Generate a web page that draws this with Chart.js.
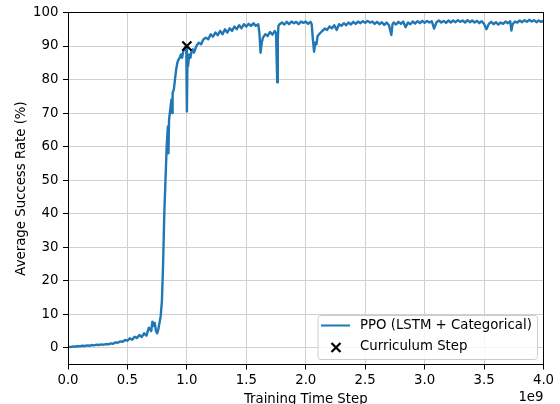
<!DOCTYPE html>
<html>
<head>
<meta charset="utf-8">
<script src="https://cdn.jsdelivr.net/npm/chart.js@4.4.1/dist/chart.umd.min.js"></script>
<style>
  html, body { margin: 0; padding: 0; background: #fff; overflow: hidden; }
  #wrap { position: relative; width: 560px; height: 420px; }
</style>
</head>
<body>
<div id="wrap"><canvas id="c"></canvas></div>
<script>
// Training time step (units of 1e9)
const steps = [
  0.00,0.02,0.04,0.06,0.08,0.10,0.12,0.14,0.16,0.18,
  0.20,0.22,0.24,0.26,0.28,0.30,0.32,0.34,0.36,0.38,
  0.40,0.42,0.44,0.46,0.48,0.50,0.52,0.54,0.56,0.58,
  0.60,0.62,0.64,0.66,0.68,0.70,0.71,0.72,0.73,0.74,
  0.75,0.76,0.77,0.78,0.79,0.80,0.81,0.82,0.83,0.84,
  0.845,0.85,0.86,0.87,0.875,0.88,0.89,0.90,0.91,0.92,
  0.93,0.94,0.95,0.96,0.97,0.98,0.99,0.995,1.00,1.005,
  1.01,1.02,1.03,1.04,1.05,1.06,1.08,1.10,1.12,1.14,
  1.16,1.18,1.20,1.22,1.24,1.26,1.28,1.30,1.32,1.34,
  1.36,1.38,1.40,1.42,1.44,1.46,1.48,1.50,1.52,1.54,
  1.56,1.58,1.60,1.61,1.62,1.63,1.64,1.66,1.68,1.70,
  1.72,1.74,1.75,1.76,1.765,1.77,1.78,1.80,1.82,1.84,
  1.86,1.88,1.90,1.92,1.94,1.96,1.98,2.00,2.02,2.04,
  2.05,2.06,2.07,2.08,2.09,2.10,2.12,2.14,2.16,2.18,
  2.20,2.22,2.24,2.26,2.28,2.30,2.32,2.34,2.36,2.38,
  2.40,2.42,2.44,2.46,2.48,2.50,2.52,2.54,2.56,2.58,
  2.60,2.62,2.64,2.66,2.68,2.70,2.72,2.73,2.74,2.76,
  2.78,2.80,2.82,2.84,2.86,2.88,2.90,2.92,2.94,2.96,
  2.98,3.00,3.02,3.04,3.06,3.08,3.10,3.12,3.14,3.16,
  3.18,3.20,3.22,3.24,3.26,3.28,3.30,3.32,3.34,3.36,
  3.38,3.40,3.42,3.44,3.46,3.48,3.50,3.52,3.54,3.56,
  3.58,3.60,3.62,3.64,3.66,3.68,3.70,3.72,3.73,3.74,
  3.76,3.78,3.80,3.82,3.84,3.86,3.88,3.90,3.92,3.94,
  3.96,3.98,4.00
];
// Average success rate (%)
const successRate = [
  0.3,0.2,0.4,0.3,0.5,0.4,0.6,0.5,0.7,0.6,
  0.8,0.7,0.9,0.8,1.0,0.9,1.1,1.0,1.3,1.2,
  1.6,1.5,1.9,1.8,2.3,2.1,2.8,2.4,3.3,2.9,
  3.8,3.2,4.3,3.6,6.0,5.0,7.8,6.5,7.4,5.0,
  4.3,5.5,7.5,9.5,14,25,40,50,60,66,
  58,68,71,74,70,76,77,80,83,85,
  86,86.5,87.5,86.5,88.5,89,90,89.5,70.5,86,
  84,87.5,86.5,88.5,89,88,90,91,90.5,92,
  92.5,92,93.5,92.8,94,93.2,94.5,93.5,95,94,
  95.3,94.5,95.8,95,96.2,95.3,96.5,95.8,96.6,96,
  96.8,96,96.5,94,88,91,92.5,93.5,93,94.2,
  93.4,94.5,93.8,79.2,92,96,96.5,97,96.4,97.2,
  96.5,97.3,96.8,97.2,96.5,97.3,96.9,97.3,96.6,97.2,
  96.5,92,88.3,91,90.5,93,93.8,94.5,95.2,94.8,
  95.8,95.3,96.2,94.8,96.5,96,96.8,96.2,97,96.4,
  97.2,96.6,97.3,96.8,97.4,96.9,97.5,97,97.3,96.6,
  97.2,96.5,97.1,96.3,97,96.2,93.3,96.5,97,96.4,
  97.2,96.6,97.3,95.6,97,96.5,97.3,96.7,97.4,96.8,
  97.5,96.9,97.5,97,97.4,95.2,97.1,97.6,97,97.5,
  96.9,97.6,97,97.6,97.1,97.7,97.2,97.6,97,97.7,
  97.1,97.6,97,97.5,96.8,97.4,96.6,95,96.6,97.2,
  96.5,97.1,96.4,97,96.6,97.3,96.8,97.4,94.6,96.5,
  97.3,97,97.6,97.1,97.7,97.2,97.8,97.3,97.7,97.1,
  97.6,97.2,97.5
];
// Curriculum step marker
const curriculumSteps = [1.0];
const curriculumRates = [90];

const xTicks = [0, 0.5, 1.0, 1.5, 2.0, 2.5, 3.0, 3.5, 4.0];

const FONT = "'DejaVu Sans', sans-serif";
const FS = 13.3;

const frame = {
  id: 'frame',
  afterDraw(chart) {
    const { ctx, chartArea: a } = chart;
    ctx.save();
    // spines
    ctx.strokeStyle = '#000';
    ctx.lineWidth = 1;
    const l = Math.round(a.left) + 0.5, t = Math.round(a.top) + 0.5;
    const r = Math.round(a.right) - 0.5, b = Math.round(a.bottom) - 0.5;
    ctx.strokeRect(l, t, r - l, b - t);
    // offset text
    ctx.fillStyle = '#000';
    ctx.font = FS + 'px ' + FONT;
    ctx.textAlign = 'right';
    ctx.textBaseline = 'middle';
    ctx.fillText('1e9', a.right, 398);
    // legend
    const bx = a.right - 226, by = a.bottom - 49.5, bw = 219.5, bh = 44;
    ctx.beginPath();
    ctx.roundRect(bx + 0.5, by + 0.5, bw, bh, 3);
    ctx.fillStyle = 'rgba(255,255,255,0.8)';
    ctx.fill();
    ctx.strokeStyle = '#cccccc';
    ctx.lineWidth = 1;
    ctx.stroke();
    const ds = chart.data.datasets;
    // line sample
    ctx.beginPath();
    ctx.moveTo(bx + 3.5, by + 10.5);
    ctx.lineTo(bx + 32.5, by + 10.5);
    ctx.strokeStyle = '#1f77b4';
    ctx.lineWidth = 2;
    ctx.stroke();
    // x marker sample
    const mx = bx + 18.5, my = by + 32.5, h = 4.5;
    ctx.beginPath();
    ctx.moveTo(mx - h, my - h); ctx.lineTo(mx + h, my + h);
    ctx.moveTo(mx - h, my + h); ctx.lineTo(mx + h, my - h);
    ctx.strokeStyle = '#000';
    ctx.lineWidth = 2.2;
    ctx.stroke();
    ctx.fillStyle = '#000';
    ctx.textAlign = 'left';
    ctx.textBaseline = 'middle';
    ctx.fillText(ds[1].label, bx + 42.5, by + 10.5);
    ctx.fillText(ds[0].label, bx + 42.5, by + 31.5);
    ctx.restore();
  }
};

new Chart(document.getElementById('c'), {
  type: 'line',
  data: {
    datasets: [
      {
        type: 'scatter',
        label: 'Curriculum Step',
        data: curriculumSteps.map((x, i) => ({ x, y: curriculumRates[i] })),
        pointStyle: 'crossRot',
        pointRadius: 6.4,
        pointBorderWidth: 2.2,
        borderColor: '#000',
        backgroundColor: '#000',
        order: 1
      },
      {
        label: 'PPO (LSTM + Categorical)',
        data: steps.map((x, i) => ({ x, y: successRate[i] })),
        borderColor: '#1f77b4',
        borderWidth: 2.4,
        pointRadius: 0,
        tension: 0,
        fill: false,
        borderJoinStyle: 'round',
        order: 2
      }
    ]
  },
  options: {
    responsive: true,
    maintainAspectRatio: false,
    animation: false,
    devicePixelRatio: 1,
    layout: { padding: { left: 0, right: 16.5, top: 11, bottom: 0 } },
    plugins: { legend: { display: false }, tooltip: { enabled: false } },
    scales: {
      x: {
        type: 'linear',
        min: 0, max: 4,
        afterBuildTicks(s) { s.ticks = xTicks.map(v => ({ value: v })); },
        afterFit(s) { s.height = 55.5; },
        ticks: {
          callback: v => Number(v).toFixed(1),
          color: '#000', font: { family: FONT, size: FS }, padding: 3,
          maxRotation: 0, autoSkip: false
        },
        grid: { color: '#d0d0d0', lineWidth: 1, tickLength: 5, tickColor: '#000' },
        border: { display: true, color: '#000', width: 1 },
        title: {
          display: true, text: 'Training Time Step', color: '#000',
          font: { family: FONT, size: FS }, padding: { top: 0, bottom: 12 }
        }
      },
      y: {
        min: -5, max: 100,
        afterFit(s) { s.width = 68; },
        ticks: {
          stepSize: 10, includeBounds: false,
          color: '#000', font: { family: FONT, size: FS }, padding: 4.5
        },
        grid: { color: '#d0d0d0', lineWidth: 1, tickLength: 5, tickColor: '#000' },
        border: { display: true, color: '#000', width: 1 },
        title: {
          display: true, text: 'Average Success Rate (%)', color: '#000',
          font: { family: FONT, size: FS }, padding: { top: 13.5, bottom: 0 }
        }
      }
    }
  },
  plugins: [frame]
});
</script>
</body>
</html>
